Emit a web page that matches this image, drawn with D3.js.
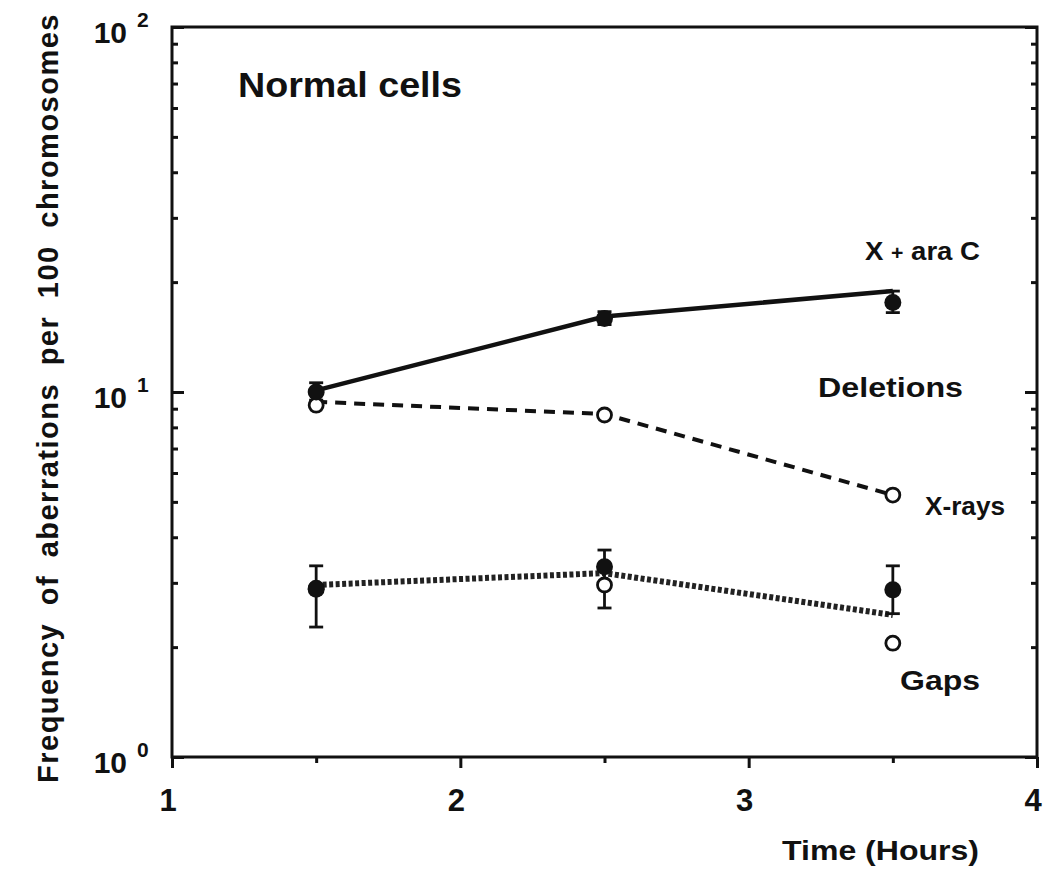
<!DOCTYPE html>
<html>
<head>
<meta charset="utf-8">
<script src="https://cdn.jsdelivr.net/npm/d3@7"></script>
<style>
  body { margin: 0; background: #fff; }
  svg text { font-family: "Liberation Sans", Arial, Helvetica, sans-serif; font-weight: bold; fill: #111; }
</style>
</head>
<body>
<div id="chart"></div>
<script>
// data
var times = [1.5, 2.5, 3.5];

// X + ara C (filled, solid line)
var aracVals = [10.0, 15.9, 17.6];
var aracLo = [9.5, 15.3, 16.5];
var aracHi = [10.6, 16.6, 18.9];
var aracLine = [10.1, 16.1, 18.9];

// X-rays (open, dashed line)
var xrayVals = [9.2, 8.65, 5.22];
var xrayLine = [9.4, 8.7, 5.22];

// Gaps
var gapFilled = [2.88, 3.32, 2.87];
var gapLo = [2.27, 2.56, 2.47];
var gapHi = [3.34, 3.69, 3.34];
var gapOpen = [2.9, 2.96, 2.05];
var gapLine = [2.96, 3.19, 2.45];

var xMajor = [1, 2, 3, 4];
var xMinor = [1.5, 2.5, 3.5];
var yMajor = [1, 10, 100];
var yMajorLabels = ["0", "1", "2"];
var yMinor = [2,3,4,5,6,7,8,9,20,30,40,50,60,70,80,90];

var W = 1043, H = 870;
var L = 172, R = 1037, T = 27, B = 757;

var svg = d3.select("#chart").append("svg").attr("width", W).attr("height", H);

var x = d3.scaleLinear().domain([1, 4]).range([L, R]);
var y = d3.scaleLog().domain([1, 100]).range([B, T]);

// axes
function styleAxis(g){
  g.select(".domain").remove();
  g.selectAll("line").attr("stroke", "#111").attr("stroke-width", 3);
}
svg.append("g").attr("transform", "translate(" + L + ",0)")
  .call(d3.axisLeft(y).tickValues(yMajor).tickSize(-12).tickFormat(""))
  .call(styleAxis);
svg.append("g").attr("transform", "translate(" + L + ",0)")
  .call(d3.axisLeft(y).tickValues(yMinor).tickSize(-6).tickFormat(""))
  .call(styleAxis);
svg.append("g").attr("transform", "translate(" + R + ",0)")
  .call(d3.axisRight(y).tickValues(yMajor).tickSize(-12).tickFormat(""))
  .call(styleAxis);
svg.append("g").attr("transform", "translate(" + R + ",0)")
  .call(d3.axisRight(y).tickValues(yMinor).tickSize(-6).tickFormat(""))
  .call(styleAxis);
svg.append("g").attr("transform", "translate(0," + B + ")")
  .call(d3.axisBottom(x).tickValues(xMajor).tickSize(11).tickFormat(""))
  .call(styleAxis);
svg.append("g").attr("transform", "translate(0," + B + ")")
  .call(d3.axisBottom(x).tickValues(xMinor).tickSize(6).tickFormat(""))
  .call(styleAxis);

// frame
svg.append("rect").attr("x", L).attr("y", T).attr("width", R - L).attr("height", B - T)
  .attr("fill", "none").attr("stroke", "#111").attr("stroke-width", 3);

// tick labels
svg.selectAll(".xlab").data(xMajor).enter().append("text")
  .attr("x", function(d){ return x(d) - 4; })
  .attr("y", 811)
  .attr("text-anchor", "middle")
  .attr("font-size", 31)
  .text(function(d){ return d; });

var yl = svg.selectAll(".ylab").data(yMajor).enter().append("g");
yl.append("text")
  .attr("x", 127).attr("y", function(d){ return y(d) + 16; })
  .attr("text-anchor", "end").attr("font-size", 30)
  .text("10");
yl.append("text")
  .attr("x", 137).attr("y", function(d){ return y(d); })
  .attr("font-size", 21)
  .text(function(d, i){ return yMajorLabels[i]; });

// axis titles
svg.append("text")
  .attr("x", 782).attr("y", 860)
  .attr("font-size", 28)
  .attr("textLength", 197).attr("lengthAdjust", "spacingAndGlyphs")
  .text("Time (Hours)");

svg.append("text")
  .attr("transform", "translate(58,398) rotate(-90)")
  .attr("text-anchor", "middle")
  .attr("font-size", 29)
  .attr("letter-spacing", 1.5)
  .attr("word-spacing", 8)
  .text("Frequency of aberrations per 100 chromosomes");

// lines
var line = d3.line().x(function(d, i){ return x(times[i]); }).y(function(d){ return y(d); });

svg.append("path").datum(gapLine).attr("d", line)
  .attr("fill", "none").attr("stroke", "#222").attr("stroke-width", 6)
  .attr("stroke-dasharray", "4,2.5");
svg.append("path").datum(xrayLine).attr("d", line)
  .attr("fill", "none").attr("stroke", "#111").attr("stroke-width", 4)
  .attr("stroke-dasharray", "11,8");
svg.append("path").datum(aracLine).attr("d", line)
  .attr("fill", "none").attr("stroke", "#111").attr("stroke-width", 4.5);

// error bars
function errBars(lo, hi, cap){
  var g = svg.append("g").attr("stroke", "#111").attr("stroke-width", 2.8);
  times.forEach(function(t, i){
    g.append("line").attr("x1", x(t)).attr("x2", x(t)).attr("y1", y(lo[i])).attr("y2", y(hi[i]));
    g.append("line").attr("x1", x(t) - cap).attr("x2", x(t) + cap).attr("y1", y(lo[i])).attr("y2", y(lo[i]));
    g.append("line").attr("x1", x(t) - cap).attr("x2", x(t) + cap).attr("y1", y(hi[i])).attr("y2", y(hi[i]));
  });
}
errBars(aracLo, aracHi, 7);
errBars(gapLo, gapHi, 7);

// markers
function openPts(vals){
  svg.append("g").selectAll("circle").data(vals).enter().append("circle")
    .attr("cx", function(d, i){ return x(times[i]); })
    .attr("cy", function(d){ return y(d); })
    .attr("r", 7)
    .attr("fill", "#fff").attr("stroke", "#111").attr("stroke-width", 2.8);
}
function filledPts(vals){
  svg.append("g").selectAll("circle").data(vals).enter().append("circle")
    .attr("cx", function(d, i){ return x(times[i]); })
    .attr("cy", function(d){ return y(d); })
    .attr("r", 8.5)
    .attr("fill", "#111");
}
openPts(xrayVals);
openPts(gapOpen);
filledPts(gapFilled);
filledPts(aracVals);

// annotations
svg.append("text").attr("x", 238).attr("y", 97).attr("font-size", 35)
  .attr("textLength", 224).attr("lengthAdjust", "spacingAndGlyphs").text("Normal cells");
var ara = svg.append("text").attr("x", 865).attr("y", 260).attr("font-size", 26)
  .attr("textLength", 115).attr("lengthAdjust", "spacingAndGlyphs");
ara.append("tspan").text("X ");
ara.append("tspan").attr("font-size", 20).text("+");
ara.append("tspan").text(" ara C");
svg.append("text").attr("x", 818).attr("y", 397).attr("font-size", 28)
  .attr("textLength", 145).attr("lengthAdjust", "spacingAndGlyphs").text("Deletions");
svg.append("text").attr("x", 925).attr("y", 515).attr("font-size", 25)
  .attr("textLength", 80).attr("lengthAdjust", "spacingAndGlyphs").text("X-rays");
svg.append("text").attr("x", 900).attr("y", 690).attr("font-size", 28)
  .attr("textLength", 80).attr("lengthAdjust", "spacingAndGlyphs").text("Gaps");
</script>
</body>
</html>
